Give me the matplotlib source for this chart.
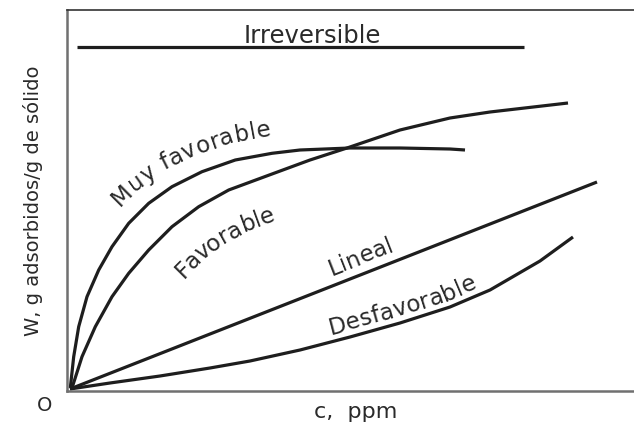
"""Adsorption isotherm shapes: W versus concentration c."""

import matplotlib

matplotlib.use("Agg")

import numpy as np
from matplotlib import pyplot as plt

# curve points (x, y in plot units, origin at lower-left corner)
MUY_FAV_X = [3.3, 6.7, 11.7, 20, 31.7, 45, 61.7, 81.7, 105, 135, 168.3, 205, 233, 283, 333, 383, 398]
MUY_FAV_Y = [3, 34.3, 64.3, 94.3, 121, 144.3, 167.7, 187.7, 204.3, 219.3, 231, 237.7, 241, 243, 243, 242, 241]

FAV_X = [5, 15, 28.3, 45, 61.7, 81.7, 105, 131.7, 161.7, 205, 243, 280, 333, 383, 423, 501]
FAV_Y = [3, 34.3, 64.3, 94.3, 117.7, 141, 164.3, 184.3, 201, 217, 231, 243, 261, 273, 279, 288]

LINEAL_X = [3, 530]
LINEAL_Y = [2, 209]

DESFAV_X = [3, 43, 93, 143, 183, 233, 283, 333, 383, 423, 473, 506]
DESFAV_Y = [2, 8, 15, 23, 30, 41, 54, 68, 84, 101, 130, 154]

IRREV_X = [10, 457]
IRREV_Y = [344, 344]

X_MAX = 567
Y_MAX = 381

LINE_COLOR = "#1e1e1e"
TEXT_COLOR = "#2a2a2a"


def label_along(ax, label, xs, ys, x_start, offset, size, tracking=0.0):
    """Lay the characters of label along a curve, shifted by offset pixels."""
    renderer = ax.figure.canvas.get_renderer()
    pts = ax.transData.transform(np.column_stack([xs, ys]))
    seg = np.diff(pts, axis=0)
    seg_len = np.hypot(seg[:, 0], seg[:, 1])
    tang = seg / seg_len[:, None]
    seg_norm = np.column_stack([-tang[:, 1], tang[:, 0]])
    vert_norm = np.vstack([seg_norm[:1], seg_norm[:-1] + seg_norm[1:], seg_norm[-1:]])
    vert_norm /= np.hypot(vert_norm[:, 0], vert_norm[:, 1])[:, None]
    off = pts + vert_norm * offset
    off_seg = np.diff(off, axis=0)
    off_len = np.hypot(off_seg[:, 0], off_seg[:, 1])
    cum = np.concatenate([[0], np.cumsum(off_len)])

    k = int(np.searchsorted(xs, x_start) - 1)
    k = max(0, min(k, len(xs) - 2))
    frac = (x_start - xs[k]) / (xs[k + 1] - xs[k])
    s0 = cum[k] + frac * off_len[k]

    def width(s):
        t = ax.text(0, 0, s + "l", fontsize=size)
        w = t.get_window_extent(renderer).width
        t.remove()
        return w

    base = width("")
    advances = [width(label[:i]) - base + i * tracking for i in range(len(label) + 1)]
    inv = ax.transData.inverted()
    for i, ch in enumerate(label):
        if ch == " ":
            continue
        s = s0 + 0.5 * (advances[i] + advances[i + 1])
        j = int(np.searchsorted(cum, s) - 1)
        j = max(0, min(j, len(off_len) - 1))
        f = (s - cum[j]) / off_len[j]
        p = off[j] + f * off_seg[j]
        angle = np.degrees(np.arctan2(off_seg[j, 1], off_seg[j, 0]))
        x, y = inv.transform(p)
        ax.text(x, y, ch, fontsize=size, color=TEXT_COLOR, rotation=angle,
                rotation_mode="anchor", ha="center", va="baseline")


def main() -> None:
    fig = plt.figure(figsize=(6.34, 4.23), dpi=100)
    ax = fig.add_axes([67 / 634, 32 / 423, 567 / 634, 381 / 423])
    ax.set_xlim(0, X_MAX)
    ax.set_ylim(0, Y_MAX)
    ax.set_xticks([])
    ax.set_yticks([])
    ax.spines["right"].set_visible(False)
    ax.spines["top"].set_color("#333333")
    ax.spines["top"].set_linewidth(1.2)
    for side in ("left", "bottom"):
        ax.spines[side].set_color("#707070")
        ax.spines[side].set_linewidth(1.8)

    for xs, ys in [(MUY_FAV_X, MUY_FAV_Y), (FAV_X, FAV_Y), (LINEAL_X, LINEAL_Y),
                   (DESFAV_X, DESFAV_Y), (IRREV_X, IRREV_Y)]:
        ax.plot(xs, ys, color=LINE_COLOR, linewidth=2.3, solid_capstyle="butt",
                solid_joinstyle="round", clip_on=False)

    ax.text(245, 348, "Irreversible", fontsize=17.5, color=TEXT_COLOR,
            ha="center", va="baseline")

    label_along(ax, "Muy favorable", MUY_FAV_X, MUY_FAV_Y, 66, 18, 16.5, tracking=0.7)
    label_along(ax, "Favorable", FAV_X, FAV_Y, 84, -45, 16.5)
    label_along(ax, "Lineal", LINEAL_X, LINEAL_Y, 268, 10, 16.5)
    label_along(ax, "Desfavorable", DESFAV_X, DESFAV_Y, 265, 7, 16.5, tracking=0.3)

    ax.set_ylabel("W, g adsorbidos/g de sólido", fontsize=14, color=TEXT_COLOR)
    ax.yaxis.set_label_coords(-0.042, 0.5)
    ax.set_xlabel("c,  ppm", fontsize=16, color=TEXT_COLOR)
    ax.xaxis.set_label_coords(0.51, -0.028)
    fig.text(45 / 634, 1 - 405 / 423, "O", fontsize=14, color=TEXT_COLOR,
             ha="center", va="center")

    fig.savefig("out.png", dpi=100)
    plt.close(fig)


if __name__ == "__main__":
    main()
